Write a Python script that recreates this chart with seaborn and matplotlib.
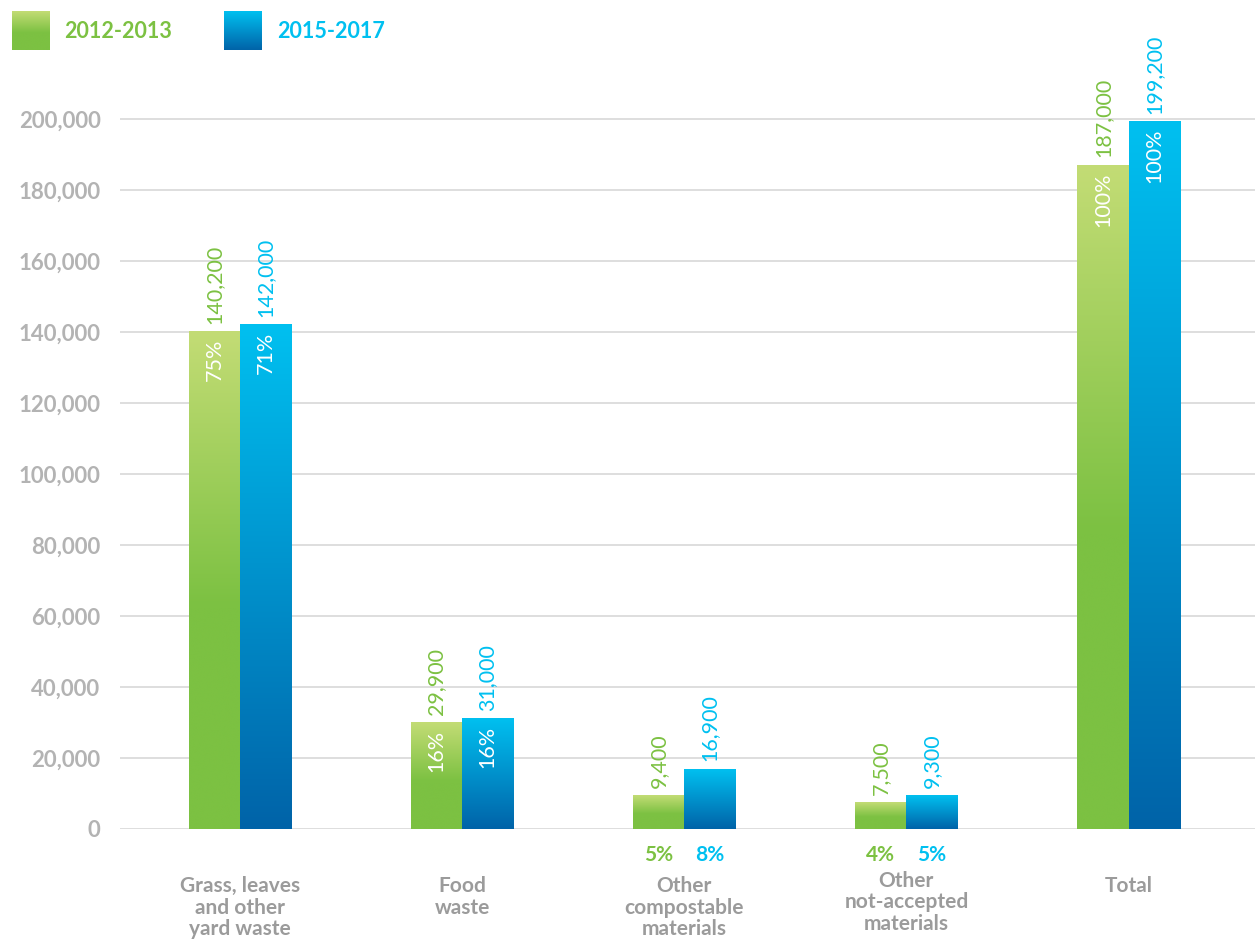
import numpy as np
import pandas as pd
import matplotlib
matplotlib.use("Agg")
import matplotlib.pyplot as plt
from matplotlib.colors import LinearSegmentedColormap
import seaborn as sns

# ---- data ----
categories = ["Grass, leaves\nand other\nyard waste", "Food\nwaste",
              "Other\ncompostable\nmaterials", "Other\nnot-accepted\nmaterials", "Total"]
periods = ["2012-2013", "2015-2017"]
values_2012 = [140200, 29900, 9400, 7500, 187000]
values_2015 = [142000, 31000, 16900, 9300, 199200]
pct_2012 = ["75%", "16%", "5%", "4%", "100%"]
pct_2015 = ["71%", "16%", "8%", "5%", "100%"]
y_ticks = [0, 20000, 40000, 60000, 80000, 100000, 120000, 140000, 160000, 180000, 200000]

df = pd.DataFrame({
    "category": categories * 2,
    "period": [periods[0]] * len(categories) + [periods[1]] * len(categories),
    "tonnes": values_2012 + values_2015,
})

GREEN = "#7cc142"
GREEN_LIGHT = "#c3dc75"
CYAN = "#00c0f0"
BLUE_DARK = "#0063a8"
GRAY_TEXT = "#9b9b9b"
GRAY_TICK = "#b3b3b3"
GRID = "#d4d4d4"

green_cmap = LinearSegmentedColormap.from_list(
    "g", [(0, GREEN), (0.45, GREEN), (1, GREEN_LIGHT)])
blue_cmap = LinearSegmentedColormap.from_list(
    "b", [(0, BLUE_DARK), (1, CYAN)])

sns.set_theme(style="white")
plt.rcParams["font.family"] = ["Lato", "DejaVu Sans"]

fig = plt.figure(figsize=(12.59, 9.40), dpi=100)
ax = fig.add_axes([0.0953, 0.1181, 0.9017, 0.7931])

sns.barplot(data=df, x="category", y="tonnes", hue="period", order=categories,
            hue_order=periods, palette=[GREEN, CYAN], width=0.46, gap=0,
            saturation=1, legend=False, ax=ax, zorder=3)

ylim = (0, 210000)
grad = np.linspace(0, 1, 256).reshape(-1, 1)

label_colors = [GREEN, CYAN]
cmaps = [green_cmap, blue_cmap]
pct_lists = [pct_2012, pct_2015]
val_lists = [values_2012, values_2015]

for h, container in enumerate(ax.containers):
    for i, bar in enumerate(container):
        x0 = bar.get_x()
        w = bar.get_width()
        top = bar.get_height()
        bar.set_facecolor("none")
        bar.set_edgecolor("none")
        ax.imshow(grad, cmap=cmaps[h], origin="lower", aspect="auto",
                  extent=[x0, x0 + w, 0, top], zorder=3, interpolation="bicubic")
        xc = x0 + w / 2
        ax.annotate(f"{val_lists[h][i]:,}", (xc, top), xytext=(0, 5.5),
                    textcoords="offset points", rotation=90, ha="center",
                    va="bottom", color=label_colors[h], fontsize=15.5)
        if top > 25000:
            ax.annotate(pct_lists[h][i], (xc, top), xytext=(0, -5),
                        textcoords="offset points", rotation=90, ha="center",
                        va="top", color="white", fontsize=15.5)
        else:
            ax.annotate(pct_lists[h][i], (xc, 0), xytext=(0, -19),
                        textcoords="offset points", ha="center", va="center",
                        color=label_colors[h], fontsize=15, fontweight="bold")

ax.set_xlim(-0.54, 4.57)
ax.set_ylim(*ylim)
ax.set_yticks(y_ticks)
ax.set_yticklabels([f"{t:,}" for t in y_ticks], color=GRAY_TICK,
                   fontsize=16, fontweight="bold")
ax.tick_params(axis="y", length=0, pad=14)
ax.set_xticks([])
ax.set_xlabel("")
ax.set_ylabel("")
for s in ax.spines.values():
    s.set_visible(False)
for t in y_ticks:
    ax.axhline(t, color=GRID, lw=1.1, zorder=1)

# category labels under the axis
for i, cat in enumerate(categories):
    dy = -30 if cat.startswith("Other\nnot") else -34
    ax.annotate(cat, (i, 0), xytext=(0, dy), textcoords="offset points",
                ha="center", va="top", color=GRAY_TEXT, fontsize=15,
                fontweight="bold", linespacing=1.1)

# legend with gradient swatches
legend_items = [(12, 64, periods[0], cmaps[0], GREEN),
                (224, 277, periods[1], cmaps[1], CYAN)]
W, H = fig.get_size_inches() * fig.dpi
for sx, tx, text, cmap, col in legend_items:
    sw = fig.add_axes([sx / W, 1 - 50 / H, 38 / W, 39 / H])
    sw.imshow(grad, cmap=cmap, origin="lower", aspect="auto")
    sw.set_axis_off()
    fig.text(tx / W, 1 - 31 / H, text, color=col, fontsize=15.5,
             fontweight="bold", ha="left", va="center")

fig.savefig("out.png", dpi=100)
